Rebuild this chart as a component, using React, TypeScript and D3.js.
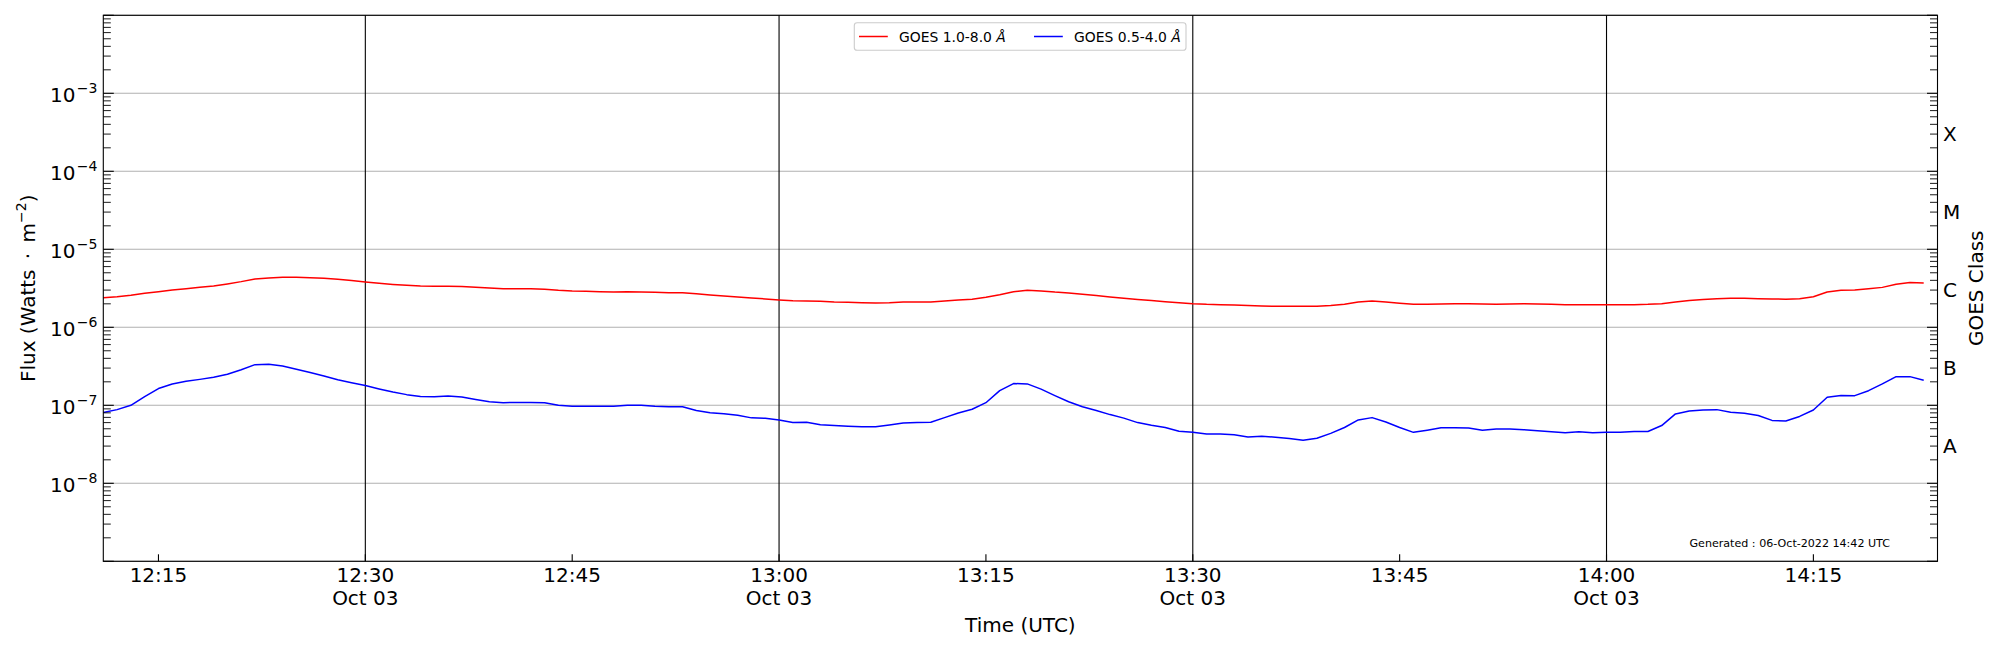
import React from 'react';
import * as d3 from 'd3';

// ---------- data ----------
const START_UTC = '2022-10-03T12:11:00Z';
const CADENCE_MINUTES = 1;
const X_DOMAIN_UTC = ['2022-10-03T12:11:00Z', '2022-10-03T14:24:00Z'];

// GOES 1.0-8.0 Å flux, units of 1e-6 W m^-2, one value per minute from 12:11 UTC
const LONG_FLUX_E6 = [
  2.40, 2.47, 2.57, 2.73, 2.86, 3.00, 3.13, 3.26, 3.39, 3.60,
  3.85, 4.17, 4.29, 4.37, 4.37, 4.33, 4.25, 4.12, 3.97, 3.81,
  3.67, 3.55, 3.46, 3.39, 3.36, 3.36, 3.33, 3.26, 3.19, 3.13,
  3.13, 3.13, 3.07, 2.98, 2.92, 2.89, 2.86, 2.83, 2.86, 2.83,
  2.81, 2.78, 2.78, 2.70, 2.60, 2.52, 2.45, 2.38, 2.31, 2.24,
  2.19, 2.18, 2.15, 2.11, 2.09, 2.07, 2.05, 2.07, 2.11, 2.11,
  2.11, 2.18, 2.24, 2.29, 2.43, 2.62, 2.86, 2.98, 2.93, 2.83,
  2.76, 2.65, 2.55, 2.45, 2.35, 2.27, 2.20, 2.13, 2.07, 2.01,
  1.97, 1.95, 1.93, 1.91, 1.88, 1.86, 1.86, 1.86, 1.86, 1.90,
  1.97, 2.11, 2.18, 2.11, 2.03, 1.97, 1.97, 1.99, 2.01, 2.01,
  1.99, 1.97, 1.99, 2.01, 1.99, 1.97, 1.95, 1.95, 1.95, 1.95,
  1.95, 1.95, 1.97, 2.01, 2.11, 2.20, 2.27, 2.33, 2.35, 2.35,
  2.33, 2.31, 2.29, 2.33, 2.47, 2.84, 2.98, 3.01, 3.13, 3.25,
  3.56, 3.74, 3.70,
];

// GOES 0.5-4.0 Å flux, units of 1e-8 W m^-2, one value per minute from 12:11 UTC
const SHORT_FLUX_E8 = [
  8.1, 8.8, 10.0, 12.9, 16.4, 18.8, 20.3, 21.5, 22.9, 25.0,
  28.6, 33.2, 33.5, 32.0, 29.0, 26.3, 23.8, 21.3, 19.5, 17.9,
  16.2, 14.8, 13.7, 13.0, 12.9, 13.2, 12.8, 11.9, 11.1, 10.8,
  10.9, 10.9, 10.8, 10.0, 9.7, 9.7, 9.7, 9.7, 10.0, 10.0,
  9.7, 9.6, 9.6, 8.6, 8.05, 7.8, 7.45, 6.9, 6.8, 6.5,
  6.0, 6.05, 5.65, 5.5, 5.4, 5.3, 5.3, 5.6, 5.95, 6.0,
  6.05, 6.95, 7.98, 8.9, 10.8, 15.4, 19.0, 18.8, 16.1, 13.3,
  11.1, 9.6, 8.6, 7.6, 6.85, 6.0, 5.55, 5.2, 4.64, 4.5,
  4.29, 4.29, 4.2, 3.93, 4.0, 3.9, 3.75, 3.56, 3.78, 4.37,
  5.19, 6.49, 6.95, 6.1, 5.2, 4.5, 4.8, 5.15, 5.15, 5.1,
  4.8, 4.95, 4.95, 4.87, 4.72, 4.58, 4.44, 4.58, 4.44, 4.5,
  4.5, 4.62, 4.62, 5.5, 7.75, 8.45, 8.7, 8.8, 8.15, 7.9,
  7.4, 6.4, 6.3, 7.2, 8.7, 12.7, 13.4, 13.3, 15.4, 18.8,
  23.3, 23.3, 21.0,
];

const SERIES_LABELS = ['GOES 1.0-8.0 ', 'GOES 0.5-4.0 '];
const SERIES_COLORS = ['#ff0000', '#0000ff'];
const Y_DOMAIN_EXP = [-9, -2];
const Y_LABEL_EXPONENTS = [-8, -7, -6, -5, -4, -3];
const GOES_CLASSES = ['A', 'B', 'C', 'M', 'X'];
const GOES_CLASS_CENTER_EXP = [-7.5, -6.5, -5.5, -4.5, -3.5];
const X_TICK_UTC = [
  '2022-10-03T12:15:00Z', '2022-10-03T12:30:00Z', '2022-10-03T12:45:00Z',
  '2022-10-03T13:00:00Z', '2022-10-03T13:15:00Z', '2022-10-03T13:30:00Z',
  '2022-10-03T13:45:00Z', '2022-10-03T14:00:00Z', '2022-10-03T14:15:00Z',
];
const X_DATE_TICK_UTC = [
  '2022-10-03T12:30:00Z', '2022-10-03T13:00:00Z',
  '2022-10-03T13:30:00Z', '2022-10-03T14:00:00Z',
];
const DATE_LABEL = 'Oct 03';
const X_LABEL = 'Time (UTC)';
const Y_LABEL = 'Flux (Watts \u2009·\u2009 m';
const Y_LABEL_SUP = '−2';
const Y2_LABEL = 'GOES Class';
const GENERATED_TEXT = 'Generated : 06-Oct-2022 14:42 UTC';

// ---------- layout ----------
const W = 2000;
const H = 650;
const L = 103.3;
const R = 1937.5;
const T = 15.3;
const B = 561.3;
const FONT = '"DejaVu Sans", Verdana, sans-serif';
const FS = 20;
const LEG_FS = 13.9;

export default function App() {
  const start = new Date(START_UTC);
  const times = LONG_FLUX_E6.map((_, i) => d3.utcMinute.offset(start, i * CADENCE_MINUTES));

  const x = d3.scaleUtc().domain(X_DOMAIN_UTC.map((s) => new Date(s))).range([L, R]);
  const y = d3
    .scaleLog()
    .domain([Math.pow(10, Y_DOMAIN_EXP[0]), Math.pow(10, Y_DOMAIN_EXP[1])])
    .range([B, T]);

  const line = d3
    .line<[Date, number]>()
    .x((d) => x(d[0]))
    .y((d) => y(d[1]));

  const longPts: [Date, number][] = LONG_FLUX_E6.map((v, i) => [times[i], v * 1e-6]);
  const shortPts: [Date, number][] = SHORT_FLUX_E8.map((v, i) => [times[i], v * 1e-8]);

  const decades = d3.range(Y_DOMAIN_EXP[0], Y_DOMAIN_EXP[1] + 1);
  const minorVals: number[] = [];
  decades.slice(0, -1).forEach((e) => {
    for (let k = 2; k <= 9; k++) minorVals.push(k * Math.pow(10, e));
  });

  const legX = 854.3;
  const legY = 22.7;
  const legW = 331.7;
  const legH = 27.6;
  const legMid = legY + legH / 2;
  const itemX = [859, 1034];

  return (
    <svg
      width={W}
      height={H}
      style={{ position: 'absolute', left: 0, top: 0, display: 'block', background: '#fff' }}
      fontFamily={FONT}
    >
      <rect x={0} y={0} width={W} height={H} fill="#fff" />
      {/* horizontal grid */}
      {decades.map((e) => (
        <line key={'g' + e} x1={L} x2={R} y1={y(Math.pow(10, e))} y2={y(Math.pow(10, e))} stroke="#b0b0b0" strokeWidth={1.1} />
      ))}
      {/* vertical black lines */}
      {X_DATE_TICK_UTC.map((s) => (
        <line key={'v' + s} x1={x(new Date(s))} x2={x(new Date(s))} y1={T} y2={B} stroke="#000" strokeWidth={1.1} />
      ))}
      {/* series */}
      <path d={line(longPts) || ''} fill="none" stroke={SERIES_COLORS[0]} strokeWidth={1.5} strokeLinejoin="round" />
      <path d={line(shortPts) || ''} fill="none" stroke={SERIES_COLORS[1]} strokeWidth={1.5} strokeLinejoin="round" />
      {/* y ticks (both sides) */}
      {decades.map((e) => {
        const yy = y(Math.pow(10, e));
        return (
          <g key={'mt' + e}>
            <line x1={L} x2={L + 10.5} y1={yy} y2={yy} stroke="#000" strokeWidth={1.1} />
            <line x1={R} x2={R - 10.5} y1={yy} y2={yy} stroke="#000" strokeWidth={1.1} />
          </g>
        );
      })}
      {minorVals.map((v, i) => {
        const yy = y(v);
        return (
          <g key={'mn' + i}>
            <line x1={L} x2={L + 7.5} y1={yy} y2={yy} stroke="#000" strokeWidth={0.9} />
            <line x1={R} x2={R - 7.5} y1={yy} y2={yy} stroke="#000" strokeWidth={0.9} />
          </g>
        );
      })}
      {/* x ticks */}
      {X_TICK_UTC.map((s) => (
        <line key={'xt' + s} x1={x(new Date(s))} x2={x(new Date(s))} y1={B} y2={B - 7} stroke="#000" strokeWidth={1.1} />
      ))}
      {/* frame */}
      <rect x={L} y={T} width={R - L} height={B - T} fill="none" stroke="#000" strokeWidth={1.1} />
      {/* y tick labels */}
      {Y_LABEL_EXPONENTS.map((e) => (
        <text key={'yl' + e} x={97.5} y={y(Math.pow(10, e)) + 8.4} fontSize={FS} textAnchor="end" fill="#000">
          10
          <tspan dx={1.5} dy={-8.6} fontSize={FS * 0.7}>{'−' + Math.abs(e)}</tspan>
        </text>
      ))}
      {/* x tick labels */}
      {X_TICK_UTC.map((s) => {
        const d = new Date(s);
        const hasDate = X_DATE_TICK_UTC.includes(s);
        return (
          <g key={'xl' + s}>
            <text x={x(d)} y={581.7} fontSize={FS} textAnchor="middle" fill="#000">
              {d3.utcFormat('%H:%M')(d)}
            </text>
            {hasDate && (
              <text x={x(d)} y={605.3} fontSize={FS} textAnchor="middle" fill="#000">
                {DATE_LABEL}
              </text>
            )}
          </g>
        );
      })}
      {/* GOES class labels */}
      {GOES_CLASSES.map((c, i) => (
        <text key={'c' + c} x={1943} y={y(Math.pow(10, GOES_CLASS_CENTER_EXP[i])) + 8.8} fontSize={FS} fill="#000">
          {c}
        </text>
      ))}
      {/* axis labels */}
      <text x={(L + R) / 2} y={631.5} fontSize={FS} textAnchor="middle" fill="#000">
        {X_LABEL}
      </text>
      <text transform={`translate(34.5, ${(T + B) / 2}) rotate(-90)`} fontSize={FS} textAnchor="middle" fill="#000">
        {Y_LABEL}
        <tspan dy={-8.4} fontSize={FS * 0.7}>{Y_LABEL_SUP}</tspan>
        <tspan dy={8.4}>)</tspan>
      </text>
      <text transform={`translate(1983, ${(T + B) / 2}) rotate(-90)`} fontSize={FS} textAnchor="middle" fill="#000">
        {Y2_LABEL}
      </text>
      {/* generated note */}
      <text x={1890} y={547.3} fontSize={11.1} textAnchor="end" fill="#000">
        {GENERATED_TEXT}
      </text>
      {/* legend */}
      <rect x={legX} y={legY} width={legW} height={legH} rx={2.8} fill="#fff" fillOpacity={0.8} stroke="#cccccc" strokeWidth={1.1} />
      {SERIES_LABELS.map((lab, i) => (
        <g key={'lg' + i}>
          <line x1={itemX[i]} x2={itemX[i] + 28.8} y1={legMid} y2={legMid} stroke={SERIES_COLORS[i]} strokeWidth={1.5} />
          <text x={itemX[i] + 40} y={legMid + 5} fontSize={LEG_FS} fill="#000">
            {lab}
            <tspan fontStyle="italic">Å</tspan>
          </text>
        </g>
      ))}
    </svg>
  );
}
